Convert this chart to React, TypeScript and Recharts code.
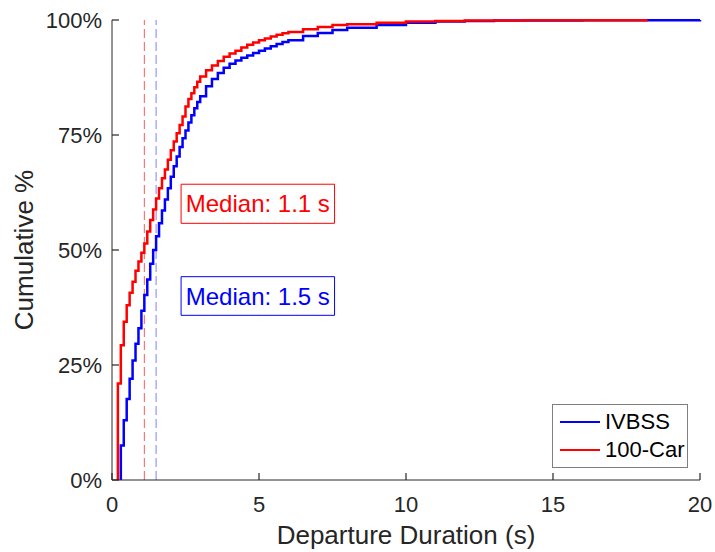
import { LineChart, Line, XAxis, YAxis, ReferenceLine, ReferenceArea, Legend } from 'recharts';

const ivbssTimes = [
  0.3, 0.3, 0.4, 0.5, 0.6, 0.7, 0.8, 0.9, 1.0, 1.1, 1.2, 1.3, 1.4, 1.5, 1.6, 1.7, 1.8, 1.9, 2.0,
  2.1, 2.2, 2.3, 2.4, 2.5, 2.6, 2.7, 2.8, 2.9, 3.0, 3.2, 3.4, 3.6, 3.8, 4.0, 4.2, 4.4, 4.6, 4.8,
  5.0, 5.2, 5.4, 5.6, 5.8, 6.0, 6.5, 7.0, 7.5, 8.0, 9.0, 10.0, 11.0, 12.0, 13.0, 16.0, 20.0,
];
const ivbssPercent = [
  0, 7.5, 13, 17.6, 22, 26, 29.6, 33, 36.8, 40.2, 43.6, 47, 50, 53, 55.8, 58.6, 61, 63.4, 65.9,
  68.2, 70.3, 72.4, 74.3, 76, 77.7, 79.3, 80.8, 82.2, 83.4, 85.6, 87.2, 88.5, 89.6, 90.5, 91.2,
  91.8, 92.3, 92.8, 93.3, 93.8, 94.3, 94.8, 95.2, 95.6, 96.5, 97.2, 97.8, 98.3, 98.9, 99.4, 99.7,
  99.8, 99.9, 99.95, 100,
];

const carTimes = [
  0.2, 0.2, 0.3, 0.4, 0.5, 0.6, 0.7, 0.8, 0.9, 1.0, 1.1, 1.2, 1.3, 1.4, 1.5, 1.6, 1.7, 1.8, 1.9,
  2.0, 2.1, 2.2, 2.3, 2.4, 2.5, 2.6, 2.7, 2.8, 2.9, 3.0, 3.2, 3.4, 3.6, 3.8, 4.0, 4.2, 4.4, 4.6,
  4.8, 5.0, 5.2, 5.4, 5.6, 5.8, 6.0, 6.5, 7.0, 7.5, 8.0, 9.0, 10.0, 11.0, 12.0, 14.0, 18.2,
];
const carPercent = [
  0, 21, 29.3, 34.4, 38, 40.7, 43.1, 45.5, 47.5, 49.4, 51.4, 54, 56.5, 58.8, 61.2, 63.4, 65.6,
  67.5, 69.6, 71.7, 73.6, 75.4, 77.2, 79, 81.2, 82.8, 84.1, 85.4, 86.6, 87.7, 89.1, 90.1, 91.1,
  92.0, 92.7, 93.3, 94.0, 94.6, 95.1, 95.6, 96.0, 96.4, 96.8, 97.1, 97.4, 98.0, 98.5, 98.9, 99.1,
  99.4, 99.7, 99.8, 99.9, 99.95, 100,
];

const seriesNames = ['IVBSS', '100-Car'];
const ivbssMedian = 1.5;
const carMedian = 1.1;

const xTicks = [0, 5, 10, 15, 20];
const yTicks = [0, 25, 50, 75, 100];

const ivbssData = ivbssTimes.map((t, i) => ({ t, p: ivbssPercent[i] }));
const carData = carTimes.map((t, i) => ({ t, p: carPercent[i] }));

const AXIS = '#262626';
const FONT = '"Liberation Sans", Arial, Helvetica, sans-serif';
const TICK_LEN = 7;
const X_MARGIN = 16;
const Y_MARGIN = 10;

// MATLAB style: tick marks point into the plot
function XTick({ x, y, payload }: any) {
  const axisY = y - X_MARGIN;
  return (
    <g>
      <path d={`M${x},${axisY}V${axisY - TICK_LEN}`} stroke={AXIS} strokeWidth={1.2} fill="none" />
      <text x={x} y={y} dy="0.71em" textAnchor="middle" fill={AXIS} fontSize={22}>
        {payload.value}
      </text>
    </g>
  );
}

function YTick({ x, y, payload }: any) {
  const axisX = x + Y_MARGIN;
  return (
    <g>
      <path d={`M${axisX},${y}H${axisX + TICK_LEN}`} stroke={AXIS} strokeWidth={1.2} fill="none" />
      <text x={x} y={y} dy="0.355em" textAnchor="end" fill={AXIS} fontSize={22}>
        {`${payload.value}%`}
      </text>
    </g>
  );
}

function LegendBox({ payload }: any) {
  const items = seriesNames.map((n) => (payload || []).find((p: any) => p.value === n)).filter(Boolean);
  return (
    <div
      style={{
        border: '1px solid #7f7f7f',
        background: '#fff',
        padding: '3px 0',
        fontFamily: FONT,
        fontSize: 22,
        color: '#000',
      }}
    >
      {items.map((entry: any) => (
        <div key={entry.value} style={{ display: 'flex', alignItems: 'center', height: 28 }}>
          <div style={{ width: 40, height: 2.5, background: entry.color, marginLeft: 7, marginRight: 5 }} />
          <span>{entry.value}</span>
        </div>
      ))}
    </div>
  );
}

export default function App() {
  return (
    <div style={{ position: 'absolute', left: 0, top: 0, background: '#fff', fontFamily: FONT }}>
      <LineChart width={715} height={552} margin={{ top: 20, right: 15, bottom: 0, left: 0 }}>
        <XAxis
          dataKey="t"
          type="number"
          domain={[0, 20]}
          ticks={xTicks}
          height={72}
          tickSize={0}
          tickLine={false}
          tickMargin={X_MARGIN}
          stroke={AXIS}
          tick={<XTick />}
          label={{ value: 'Departure Duration (s)', position: 'insideBottom', offset: 8, fill: AXIS, fontSize: 26 }}
        />
        <YAxis
          type="number"
          domain={[0, 100]}
          ticks={yTicks}
          width={112}
          tickSize={0}
          tickLine={false}
          tickMargin={Y_MARGIN}
          stroke={AXIS}
          tick={<YTick />}
          label={{
            value: 'Cumulative %',
            angle: -90,
            position: 'insideLeft',
            offset: 24,
            fill: AXIS,
            fontSize: 26,
            style: { textAnchor: 'middle' },
          }}
        />
        <ReferenceLine x={carMedian} stroke="#ff0000" strokeOpacity={0.65} strokeDasharray="9 4" strokeWidth={1} />
        <ReferenceLine x={ivbssMedian} stroke="#0000ff" strokeOpacity={0.5} strokeDasharray="9 4" strokeWidth={1} />
        <ReferenceArea
          x1={2.35}
          x2={7.57}
          y1={55.8}
          y2={64.3}
          fill="#fff"
          fillOpacity={0}
          stroke="#ff0000"
          strokeWidth={1}
          label={{ value: `Median: ${carMedian} s`, position: 'center', fill: '#ff0000', fontSize: 24 }}
        />
        <ReferenceArea
          x1={2.35}
          x2={7.57}
          y1={35.8}
          y2={44.2}
          fill="#fff"
          fillOpacity={0}
          stroke="#0000ff"
          strokeWidth={1}
          label={{ value: `Median: ${ivbssMedian} s`, position: 'center', fill: '#0000ff', fontSize: 24 }}
        />
        <Line
          data={ivbssData}
          dataKey="p"
          name={seriesNames[0]}
          type="stepAfter"
          stroke="#0000ff"
          strokeWidth={2.5}
          dot={false}
          activeDot={false}
          isAnimationActive={false}
        />
        <Line
          data={carData}
          dataKey="p"
          name={seriesNames[1]}
          type="stepAfter"
          stroke="#ff0000"
          strokeWidth={2.5}
          dot={false}
          activeDot={false}
          isAnimationActive={false}
        />
        <Legend
          layout="vertical"
          align="center"
          verticalAlign="middle"
          wrapperStyle={{ left: 552, top: 404, width: 136 }}
          content={(props: any) => <LegendBox payload={props.payload} />}
        />
      </LineChart>
    </div>
  );
}
